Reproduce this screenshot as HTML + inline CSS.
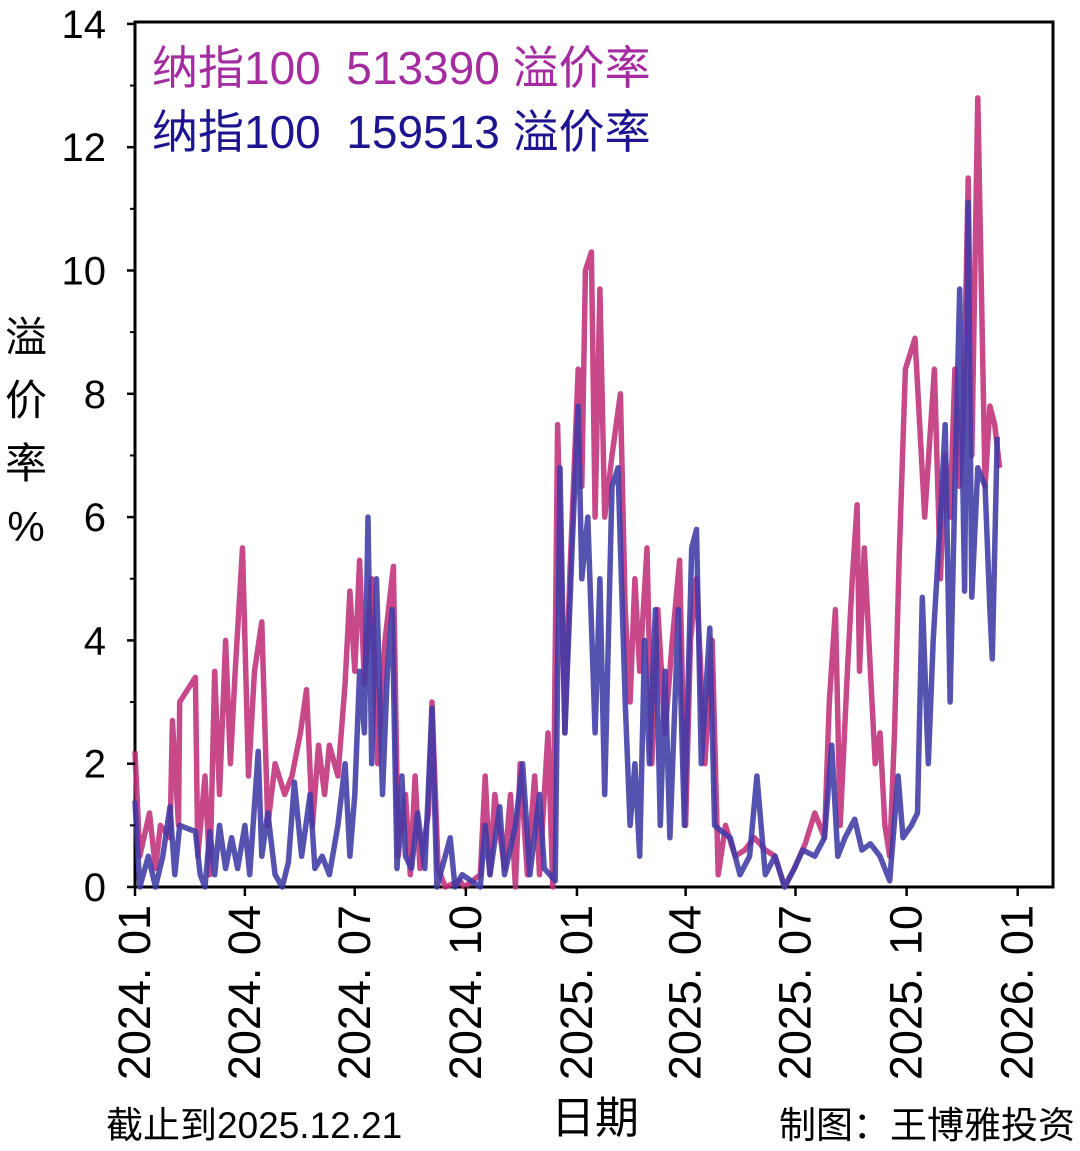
<!DOCTYPE html>
<html><head><meta charset="utf-8">
<style>
html,body{margin:0;padding:0;background:#fff;}
svg{display:block;font-family:"Liberation Sans","Noto Sans CJK SC",sans-serif;}
.pre{white-space:pre;}
</style></head>
<body>
<svg id="chart" width="1080" height="1151" viewBox="0 0 1080 1151" xmlns="http://www.w3.org/2000/svg">
<rect x="135" y="22" width="918" height="865" fill="none" stroke="#000" stroke-width="3"/>
<g id="lines"></g>
<g id="axes"></g>
<text class="pre" x="152" y="84" font-size="46" fill="#A52CA0">纳指100  513390 溢价率</text>
<text class="pre" x="152" y="148" font-size="46" fill="#1E1490">纳指100  159513 溢价率</text>
<g font-size="42" fill="#000" text-anchor="middle">
<text x="26" y="352">溢</text><text x="26" y="415">价</text><text x="26" y="478">率</text><text x="26" y="541">%</text>
</g>
<text x="595" y="1133" font-size="44" text-anchor="middle">日期</text>
<text x="106" y="1138" font-size="37">截止到2025.12.21</text>
<text x="1075" y="1138" font-size="37" text-anchor="end">制图：王博雅投资</text>
</svg>
<script>
const tickLabels = ["2024. 01","2024. 04","2024. 07","2024. 10","2025. 01","2025. 04","2025. 07","2025. 10","2026. 01"];
const tickDays = [0,91,182,274,366,456,547,639,731];
const yTicks = [0,2,4,6,8,10,12,14];
const daysA = [0,4,12,17,21,29,31,36,37,50,52,58,62,66,70,75,79,83,89,94,99,105,110,116,124,130,137,142,147,152,157,161,168,174,178,182,186,190,196,201,207,214,218,224,228,232,236,243,246,251,257,269,273,286,290,294,298,306,311,315,319,325,331,335,342,346,350,356,360,367,370,373,378,381,385,389,395,402,406,410,414,418,424,428,433,439,445,451,456,460,465,472,478,483,489,497,505,513,522,530,538,546,555,563,571,575,580,584,590,594,598,600,604,609,613,617,621,625,629,633,638,646,654,662,667,671,675,679,683,686,690,693,698,704,708,712,716];
const valsA = [2.2,0.5,1.2,0.3,1.0,0.8,2.7,1.0,3.0,3.4,0.5,1.8,0.2,3.5,1.5,4.0,2.0,3.5,5.5,1.8,3.5,4.3,1.0,2.0,1.5,1.8,2.5,3.2,1.0,2.3,1.5,2.3,1.8,3.3,4.8,3.5,5.3,3.3,5.0,2.0,4.0,5.2,0.5,1.5,0.2,1.8,0.3,1.2,3.0,0.3,0.0,0.1,0.0,0.2,1.8,0.2,1.5,0.3,1.5,0.0,2.0,0.2,1.8,0.2,2.5,0.0,7.5,2.5,5.0,8.4,6.5,10.0,10.3,6.0,9.7,6.0,7.0,8.0,4.5,3.0,5.0,3.5,5.5,2.0,4.5,2.5,4.0,5.3,1.0,4.0,5.0,2.0,4.0,0.2,1.0,0.5,0.6,0.8,0.6,0.5,0.0,0.3,0.7,1.2,0.8,3.0,4.5,1.0,3.5,5.0,6.2,3.5,5.5,3.5,2.0,2.5,1.0,0.5,2.5,5.4,8.4,8.9,6.0,8.4,5.0,7.0,6.0,8.4,6.5,7.5,11.5,7.0,12.8,6.5,7.8,7.5,6.8,5.0,8.2];
const daysB = [0,4,11,17,23,29,33,37,50,54,58,62,66,70,75,80,85,91,95,102,105,110,116,122,127,132,138,145,149,155,161,168,174,178,182,186,190,193,196,200,205,209,213,217,221,224,229,234,240,246,250,261,265,271,286,290,294,302,306,315,321,327,335,339,348,352,356,362,367,370,375,381,385,389,395,400,406,410,414,418,422,426,431,435,439,443,450,455,461,465,469,476,480,486,493,501,509,515,522,530,538,546,553,563,571,577,582,588,596,602,609,617,625,632,636,643,648,652,657,661,667,671,675,679,683,687,690,693,698,704,708,710,714];
const valsB = [1.4,0,0.5,0,0.5,1.3,0.2,1.0,0.9,0.2,0,0.9,0.2,1.0,0.3,0.8,0.3,1.0,0.2,2.2,0.5,1.2,0.2,0,0.4,1.7,0.5,1.5,0.3,0.5,0.2,1.0,2.0,0.5,1.5,3.5,2.5,6.0,2.0,5.0,1.5,3.5,4.5,0.3,1.8,0.5,0.3,1.2,0.3,2.9,0,0.8,0,0.2,0.0,1.0,0.2,1.3,0.2,1.0,2.0,0.2,1.5,0.3,0.1,6.8,2.5,5.5,7.8,5.0,6.0,2.5,5.0,1.5,6.5,6.8,3.0,1.0,2.0,0.5,4.0,2.0,4.5,1.0,3.5,0.8,4.5,1.0,5.5,5.8,2.0,4.2,1.0,0.9,0.8,0.2,0.5,1.8,0.2,0.5,0.0,0.3,0.6,0.5,0.8,2.3,0.5,0.8,1.1,0.6,0.7,0.5,0.1,1.8,0.8,1.0,1.2,4.7,2.0,4.0,6.0,7.5,3.0,6.5,9.7,4.8,11.1,4.7,6.8,6.5,4.5,3.7,7.3];

const NS = "http://www.w3.org/2000/svg";
const X0 = 135, PXDAY = 1.2075, Y0 = 887, PXUNIT = 61.65;
const xs = d => X0 + d * PXDAY;
const ys = v => Y0 - v * PXUNIT;
const lines = document.getElementById('lines');
const axes = document.getElementById('axes');

function addLine(days, vals, color, name) {
  const p = document.createElementNS(NS, 'path');
  p.setAttribute('d', days.map((d, i) => (i ? 'L' : 'M') + xs(d).toFixed(1) + ',' + ys(vals[i]).toFixed(1)).join(''));
  p.setAttribute('fill', 'none');
  p.setAttribute('stroke', color);
  p.setAttribute('stroke-width', '5.5');
  p.setAttribute('stroke-linejoin', 'round');
  p.setAttribute('opacity', '0.88');
  
  
  lines.appendChild(p);
}
addLine(daysA, valsA, '#C0307A', 'line-513390');
addLine(daysB, valsB, '#3F3AA5', 'line-159513');

yTicks.forEach(v => {
  const t = document.createElementNS(NS, 'line');
  t.setAttribute('x1', 127); t.setAttribute('x2', 135);
  t.setAttribute('y1', ys(v)); t.setAttribute('y2', ys(v));
  t.setAttribute('stroke', '#000'); t.setAttribute('stroke-width', '2.5');
  
  
  axes.appendChild(t);
  const lb = document.createElementNS(NS, 'text');
  lb.setAttribute('x', 106); lb.setAttribute('y', ys(v) + 14);
  lb.setAttribute('font-size', '40'); lb.setAttribute('text-anchor', 'end');
  lb.textContent = v;
  
  
  axes.appendChild(lb);
  if (v < 14) {
    const m = document.createElementNS(NS, 'line');
    m.setAttribute('x1', 130); m.setAttribute('x2', 135);
    m.setAttribute('y1', ys(v + 1)); m.setAttribute('y2', ys(v + 1));
    m.setAttribute('stroke', '#000'); m.setAttribute('stroke-width', '2');
    
    
    axes.appendChild(m);
  }
});
tickDays.forEach((d, i) => {
  const t = document.createElementNS(NS, 'line');
  t.setAttribute('x1', xs(d)); t.setAttribute('x2', xs(d));
  t.setAttribute('y1', 887); t.setAttribute('y2', 896);
  t.setAttribute('stroke', '#000'); t.setAttribute('stroke-width', '2.5');
  
  
  axes.appendChild(t);
  const lb = document.createElementNS(NS, 'text');
  const x = xs(d) + 15, y = 905;
  lb.setAttribute('x', x); lb.setAttribute('y', y);
  lb.setAttribute('font-size', '45'); lb.setAttribute('text-anchor', 'end');
  lb.setAttribute('transform', 'rotate(-90 ' + x + ' ' + y + ')');
  lb.textContent = tickLabels[i];
  
  
  axes.appendChild(lb);
});
</script>
</body></html>
